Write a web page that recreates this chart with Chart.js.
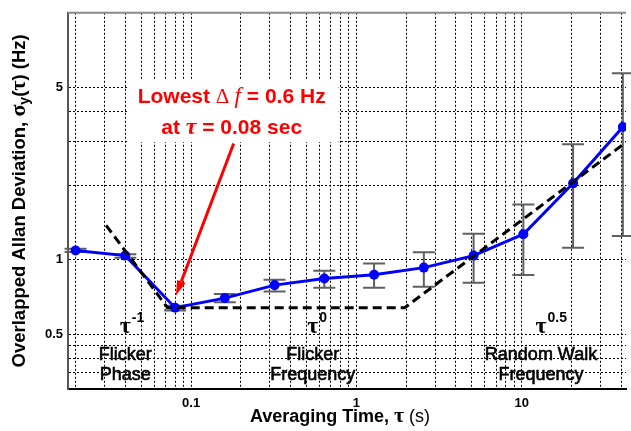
<!DOCTYPE html>
<html>
<head>
<meta charset="utf-8">
<title>Overlapped Allan Deviation</title>
<script src="https://cdn.jsdelivr.net/npm/chart.js@4.4.1/dist/chart.umd.min.js"></script>
<style>
  html, body { margin: 0; padding: 0; background: #fff; }
  canvas { display: block; }
</style>
</head>
<body>
<canvas id="adevChart" width="631" height="431"></canvas>
<script>
// ======================================================
// Data
// ======================================================

// averaging time (s) and overlapped Allan deviation (Hz)
const tau = [0.02, 0.04, 0.08, 0.16, 0.32, 0.64, 1.28, 2.56, 5.12, 10.24, 20.48, 40.96];
const adev = [1.09, 1.04, 0.64, 0.70, 0.79, 0.84, 0.87, 0.93, 1.04, 1.27, 2.04, 3.45];
const adevLow = [1.075, 1.02, 0.624, 0.674, 0.744, 0.770, 0.770, 0.779, 0.808, 0.868, 1.12, 1.25];
const adevHigh = [1.11, 1.054, 0.652, 0.728, 0.831, 0.903, 0.966, 1.074, 1.275, 1.674, 2.94, 5.69];

// noise-model asymptotes (dashed line)
const fitTau = [0.0306, 0.072, 1.96, 42.8];
const fitDev = [1.38, 0.64, 0.64, 2.99];

// grid lines and labelled ticks
const xGrid = [0.02, 0.03, 0.04, 0.05, 0.06, 0.07, 0.08, 0.09,
               0.1, 0.2, 0.3, 0.4, 0.5, 0.6, 0.7, 0.8, 0.9,
               1, 2, 3, 4, 5, 6, 7, 8, 9,
               10, 20, 30, 40];
const xLabels = [0.1, 1, 10];
const yGrid = [0.35, 0.4, 0.45, 0.5, 1, 2, 3, 4, 5];
const yLabels = [0.5, 1, 5];

// noise regions written under the curve
const regionTau = [0.04, 0.545, 13.1];
const regionSlope = ["-1", "0", "0.5"];
const regionName = [["Flicker", "Phase"], ["Flicker", "Frequency"], ["Random Walk", "Frequency"]];

// callout anchor (tau, dev) and arrow (tail -> tip)
const calloutAt = [0.176, 4.31];
const arrowFrom = [0.181, 2.96];
const arrowTo = [0.081, 0.717];

// ======================================================
// Helpers
// ======================================================

const SANS = '"Liberation Sans", Arial, sans-serif';
const SERIF = '"Liberation Serif", "Times New Roman", serif';

function runsWidth(ctx, runs) {
    let w = 0;
    runs.forEach(r => { ctx.font = r.font; w += ctx.measureText(r.text).width; });
    return w;
}

// draw a row of differently styled text pieces centred on cx
function drawRuns(ctx, runs, cx, baseline) {
    let px = cx - runsWidth(ctx, runs) / 2;
    runs.forEach(r => {
        ctx.font = r.font;
        ctx.fillText(r.text, px, baseline + (r.dy || 0));
        px += ctx.measureText(r.text).width;
    });
}

// ======================================================
// Plugin: error bars, callout, labels, axis titles
// ======================================================

const decorations = {

    id: "decorations",

    beforeDatasetsDraw(chart) {

        const { ctx, scales: { x, y } } = chart;

        // white panel behind the red callout
        const cx = x.getPixelForValue(calloutAt[0]);
        const base = y.getPixelForValue(calloutAt[1]);
        ctx.save();
        ctx.fillStyle = "#fff";
        ctx.fillRect(cx - 103, base - 23, 210, 62);
        ctx.restore();

        // error bars
        ctx.save();
        ctx.strokeStyle = "#606060";
        ctx.lineWidth = 2;
        tau.forEach((t, i) => {
            const px = x.getPixelForValue(t);
            const top = y.getPixelForValue(adevHigh[i]);
            const bot = y.getPixelForValue(adevLow[i]);
            ctx.beginPath();
            ctx.moveTo(px, top); ctx.lineTo(px, bot);
            ctx.moveTo(px - 11, top); ctx.lineTo(px + 11, top);
            ctx.moveTo(px - 11, bot); ctx.lineTo(px + 11, bot);
            ctx.stroke();
        });
        ctx.restore();

    },

    afterDatasetsDraw(chart) {

        const { ctx, chartArea, scales: { x, y } } = chart;

        ctx.save();

        // top frame line
        ctx.strokeStyle = "#888";
        ctx.lineWidth = 2;
        ctx.beginPath();
        ctx.moveTo(chartArea.left, chartArea.top);
        ctx.lineTo(chartArea.right, chartArea.top);
        ctx.stroke();

        // red callout text
        ctx.fillStyle = "#ff0000";
        ctx.textBaseline = "alphabetic";
        const cx = x.getPixelForValue(calloutAt[0]);
        const base = y.getPixelForValue(calloutAt[1]);
        drawRuns(ctx, [
            { text: "Lowest ", font: "bold 21px " + SANS },
            { text: "\u0394 ", font: "21px " + SERIF },
            { text: "f", font: "italic 23px " + SERIF },
            { text: " = 0.6 Hz", font: "bold 21px " + SANS }
        ], cx, base);
        drawRuns(ctx, [
            { text: "at ", font: "bold 21px " + SANS },
            { text: "\u03c4", font: "italic bold 24px " + SERIF },
            { text: " = 0.08 sec", font: "bold 21px " + SANS }
        ], cx, base + 31);

        // red arrow
        const ax0 = x.getPixelForValue(arrowFrom[0]);
        const ay0 = y.getPixelForValue(arrowFrom[1]);
        const ax1 = x.getPixelForValue(arrowTo[0]);
        const ay1 = y.getPixelForValue(arrowTo[1]);
        const ang = Math.atan2(ay1 - ay0, ax1 - ax0);
        const headLen = 15, headHalf = 4.5;
        const hx = ax1 - headLen * Math.cos(ang);
        const hy = ay1 - headLen * Math.sin(ang);
        ctx.strokeStyle = "#ff0000";
        ctx.lineWidth = 3;
        ctx.beginPath();
        ctx.moveTo(ax0, ay0);
        ctx.lineTo(hx, hy);
        ctx.stroke();
        ctx.beginPath();
        ctx.moveTo(ax1, ay1);
        ctx.lineTo(hx + headHalf * Math.sin(ang), hy - headHalf * Math.cos(ang));
        ctx.lineTo(hx - headHalf * Math.sin(ang), hy + headHalf * Math.cos(ang));
        ctx.closePath();
        ctx.fill();

        // noise regions
        ctx.fillStyle = "#000";
        ctx.strokeStyle = "#000";
        ctx.lineWidth = 0.6;
        const tauBase = y.getPixelForValue(0.505);
        const row1 = y.getPixelForValue(0.393);
        const row2 = y.getPixelForValue(0.326);
        regionTau.forEach((t, i) => {
            const px = x.getPixelForValue(t);
            ctx.font = "bold 24px " + SERIF;
            const tw = ctx.measureText("\u03c4").width;
            ctx.textAlign = "left";
            ctx.fillText("\u03c4", px - tw / 2, tauBase);
            ctx.font = "bold 14px " + SANS;
            ctx.fillText(regionSlope[i], px + tw / 2 + 1, tauBase - 11);
            ctx.textAlign = "center";
            ctx.font = "18px " + SANS;
            ctx.fillText(regionName[i][0], px, row1);
            ctx.strokeText(regionName[i][0], px, row1);
            ctx.fillText(regionName[i][1], px, row2);
            ctx.strokeText(regionName[i][1], px, row2);
        });
        ctx.textAlign = "left";

        // x axis title
        const midX = (chartArea.left + chartArea.right) / 2;
        drawRuns(ctx, [
            { text: "Averaging Time, ", font: "bold 18px " + SANS },
            { text: "\u03c4", font: "bold 22px " + SERIF },
            { text: " (s)", font: "18px " + SANS }
        ], midX - 7, chartArea.bottom + 33);

        // y axis title (rotated)
        ctx.translate(25, (chartArea.top + chartArea.bottom) / 2);
        ctx.rotate(-Math.PI / 2);
        drawRuns(ctx, [
            { text: "Overlapped Allan Deviation, ", font: "bold 18.5px " + SANS },
            { text: "\u03c3", font: "bold 22px " + SERIF },
            { text: "y", font: "bold 14px " + SANS, dy: 4 },
            { text: "(", font: "bold 18.5px " + SANS },
            { text: "\u03c4", font: "bold 22px " + SERIF },
            { text: ") (Hz)", font: "bold 18.5px " + SANS }
        ], 0, 0);

        ctx.restore();

    }

};

// ======================================================
// Chart
// ======================================================

function createAllanChart() {

    const ctx = document.getElementById("adevChart");

    new Chart(ctx, {

        type: "scatter",

        data: {

            datasets: [
                {
                    label: "Noise model",
                    data: fitTau.map((t, i) => ({ x: t, y: fitDev[i] })),
                    showLine: true,
                    borderColor: "#000",
                    borderWidth: 3,
                    borderDash: [9, 5],
                    pointRadius: 0,
                    order: 0
                },
                {
                    label: "Overlapped ADEV",
                    data: tau.map((t, i) => ({ x: t, y: adev[i] })),
                    showLine: true,
                    borderColor: "#0000ff",
                    backgroundColor: "#0000ff",
                    borderWidth: 3,
                    pointRadius: 5,
                    pointBorderWidth: 0,
                    order: 1
                }
            ]

        },

        options: {

            responsive: false,
            animation: false,
            devicePixelRatio: 1,
            layout: { padding: { top: 10, right: 0, bottom: 0, left: 0 } },

            plugins: {
                legend: { display: false },
                tooltip: { enabled: false }
            },

            scales: {

                x: {
                    type: "logarithmic",
                    min: 0.018,
                    max: 42.8,
                    afterBuildTicks: s => { s.ticks = xGrid.map(v => ({ value: v })); },
                    afterFit: s => { s.height = 42; },
                    grid: { color: "#000", lineWidth: 1, drawTicks: false },
                    border: { display: true, color: "#000", width: 2, dash: [2, 2] },
                    ticks: {
                        autoSkip: false,
                        maxRotation: 0,
                        padding: 7,
                        color: "#000",
                        font: { family: SANS, size: 13, weight: "bold" },
                        callback: v => xLabels.includes(v) ? String(v) : ""
                    }
                },

                y: {
                    type: "logarithmic",
                    min: 0.3,
                    max: 10,
                    afterBuildTicks: s => { s.ticks = yGrid.map(v => ({ value: v })); },
                    afterFit: s => { s.width = 68; },
                    grid: { color: "#000", lineWidth: 1, drawTicks: false },
                    border: { display: true, color: "#555", width: 2, dash: [2, 2] },
                    ticks: {
                        autoSkip: false,
                        padding: 5,
                        color: "#000",
                        font: { family: SANS, size: 13, weight: "bold" },
                        callback: v => yLabels.includes(v) ? String(v) : ""
                    }
                }

            }

        },

        plugins: [decorations]

    });

}

createAllanChart();
</script>
</body>
</html>
